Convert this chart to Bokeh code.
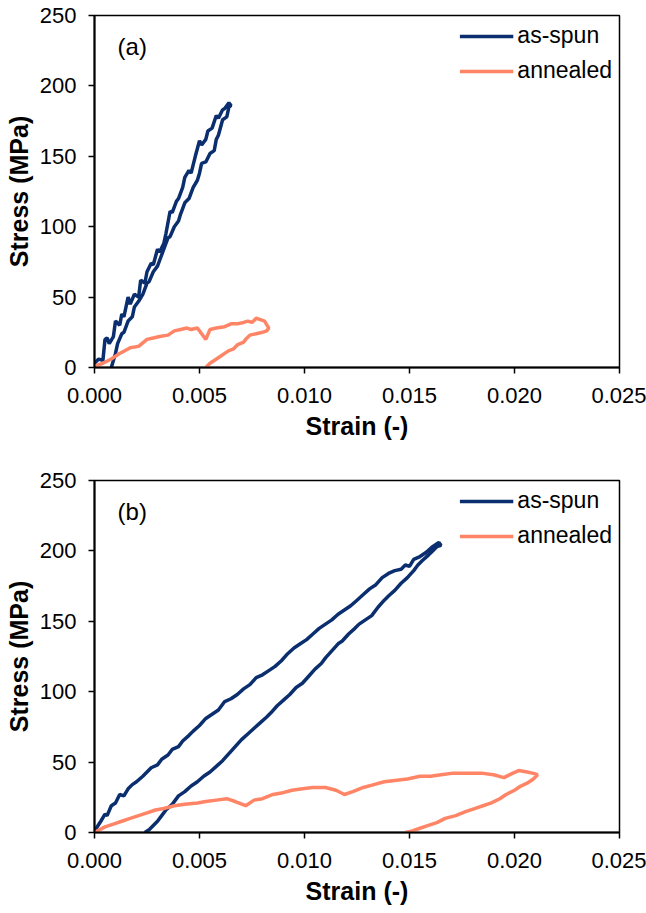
from bokeh.plotting import figure
from bokeh.layouts import column
from bokeh.models import Range1d, FixedTicker, NumeralTickFormatter, Label
from bokeh.embed import file_html
from bokeh.resources import INLINE

# ---------------- data ----------------
# Panel (a)
a_spun_x = [0.0000, 0.0002, 0.0004, 0.0005, 0.0006, 0.0007, 0.0009, 0.0010, 0.0012, 0.0013, 0.0014,
            0.0016, 0.0017, 0.0019, 0.0021, 0.0022, 0.0024, 0.0025, 0.0027, 0.0028, 0.0030, 0.0031,
            0.0033, 0.0034, 0.0036, 0.0037, 0.0039, 0.0040, 0.0042, 0.0043, 0.0045, 0.0046, 0.0048,
            0.0050, 0.0051, 0.0053, 0.0054, 0.0056, 0.0058, 0.0059, 0.0061, 0.0062, 0.0064, 0.0065,
            0.0064, 0.0063, 0.0061, 0.0059, 0.0058, 0.0057, 0.0055, 0.0053, 0.0051, 0.0050, 0.0049,
            0.0047, 0.0045, 0.0043, 0.0041, 0.0040, 0.0038, 0.0036, 0.0035, 0.0033, 0.0031, 0.0030,
            0.0028, 0.0026, 0.0025, 0.0023, 0.0021, 0.0019, 0.0018, 0.0016, 0.0014, 0.0013, 0.0011,
            0.0010, 0.0009, 0.0008]
a_spun_y = [3, 6, 5, 20, 21, 17, 22, 33, 30, 38, 36,
            50, 45, 52, 50, 62, 60, 68, 74, 73, 84, 82,
            88, 95, 111, 110, 118, 120, 128, 135, 140, 138, 150,
            161, 158, 162, 168, 170, 179, 177, 183, 184, 188, 186,
            185, 178, 176, 165, 162, 154, 152, 146, 145, 138, 133,
            128, 120, 117, 109, 104, 100, 93, 92, 84, 76, 72,
            68, 61, 60, 52, 47, 43, 36, 33, 25, 24, 17,
            10, 5, 0]
a_ann_x = [0.0000, 0.0004, 0.0008, 0.0012, 0.0017, 0.0021, 0.0025, 0.0028, 0.0031, 0.0035, 0.0038,
           0.0041, 0.0044, 0.0046, 0.0049, 0.0051, 0.0053, 0.0055, 0.0058, 0.0062, 0.0065, 0.0068,
           0.0071, 0.0073, 0.0075, 0.0077, 0.0079, 0.0081, 0.0083, 0.0082, 0.0080, 0.0077, 0.0074,
           0.0072, 0.0071, 0.0068, 0.0066, 0.0064, 0.0062, 0.0060, 0.0057, 0.0055, 0.0053]
a_ann_y = [1, 3, 6, 10, 14, 15, 20, 21, 22, 23, 26,
           27, 28, 27, 28, 24, 20, 27, 28, 29, 31, 31,
           32, 33, 32, 35, 34, 33, 28, 26, 25, 24, 23,
           20, 18, 16, 13, 12, 10, 8, 5, 3, 0]

# Panel (b)
b_spun_x = [0.0000, 0.0003, 0.0005, 0.0006, 0.0008, 0.0010, 0.0012, 0.0014, 0.0016, 0.0018, 0.0020,
            0.0023, 0.0025, 0.0027, 0.0030, 0.0032, 0.0035, 0.0037, 0.0040, 0.0042, 0.0045, 0.0047,
            0.0050, 0.0053, 0.0056, 0.0059, 0.0062, 0.0065, 0.0068, 0.0071, 0.0074, 0.0077, 0.0080,
            0.0083, 0.0086, 0.0089, 0.0092, 0.0095, 0.0098, 0.0101, 0.0104, 0.0107, 0.0110, 0.0113,
            0.0116, 0.0119, 0.0122, 0.0125, 0.0128, 0.0131, 0.0134, 0.0137, 0.0140, 0.0143, 0.0146,
            0.0148, 0.0150, 0.0152, 0.0155, 0.0158, 0.0161, 0.0164, 0.0165,
            0.0163, 0.0161, 0.0159, 0.0156, 0.0154, 0.0152, 0.0149, 0.0146, 0.0143, 0.0140, 0.0138,
            0.0135, 0.0132, 0.0129, 0.0126, 0.0124, 0.0121, 0.0118, 0.0116, 0.0113, 0.0110, 0.0108,
            0.0105, 0.0102, 0.0099, 0.0096, 0.0093, 0.0090, 0.0087, 0.0084, 0.0082, 0.0079, 0.0076,
            0.0073, 0.0070, 0.0067, 0.0064, 0.0061, 0.0058, 0.0055, 0.0052, 0.0049, 0.0046, 0.0043,
            0.0040, 0.0037, 0.0034, 0.0032, 0.0030, 0.0028, 0.0026, 0.0024]
b_spun_y = [1, 8, 13, 12, 19, 21, 27, 26, 31, 34, 36,
            40, 43, 46, 48, 52, 55, 59, 61, 65, 69, 72,
            76, 81, 84, 87, 93, 95, 98, 102, 105, 110, 112,
            115, 118, 122, 127, 131, 134, 137, 141, 145, 148, 151,
            155, 158, 161, 165, 169, 173, 176, 181, 184, 186, 187,
            190, 189, 194, 196, 199, 203, 206, 204,
            203, 200, 197, 193, 190, 186, 181, 177, 172, 168, 165,
            160, 154, 151, 148, 145, 141, 136, 134, 129, 124, 120,
            116, 111, 106, 103, 98, 94, 90, 85, 82, 78, 74,
            70, 66, 61, 56, 51, 47, 43, 40, 36, 33, 29,
            26, 20, 16, 12, 8, 5, 2, 0]
b_ann_x = [0.0000, 0.0005, 0.0009, 0.0013, 0.0017, 0.0021, 0.0025, 0.0029, 0.0033, 0.0038, 0.0043,
           0.0049, 0.0053, 0.0058, 0.0063, 0.0067, 0.0072, 0.0076, 0.0080, 0.0085, 0.0089, 0.0094,
           0.0099, 0.0104, 0.0110, 0.0115, 0.0119, 0.0123, 0.0128, 0.0133, 0.0138, 0.0143, 0.0149,
           0.0155, 0.0160, 0.0165, 0.0170, 0.0175, 0.0180, 0.0185, 0.0190, 0.0195, 0.0199, 0.0202,
           0.0206, 0.0209, 0.0211,
           0.0209, 0.0206, 0.0203, 0.0200, 0.0196, 0.0193, 0.0189, 0.0185, 0.0181, 0.0177, 0.0172,
           0.0167, 0.0163, 0.0159, 0.0155, 0.0151, 0.0148]
b_ann_y = [0, 4, 6, 8, 10, 12, 14, 16, 17, 19, 20,
           21, 22, 23, 24, 22, 19, 23, 24, 27, 28, 30,
           31, 32, 32, 30, 27, 29, 32, 34, 36, 37, 38,
           40, 40, 41, 42, 42, 42, 42, 41, 39, 42, 44,
           43, 42, 41,
           38, 35, 33, 30, 27, 24, 21, 19, 17, 15, 12,
           10, 7, 5, 3, 1, 0]

x_ticks = [0.000, 0.005, 0.010, 0.015, 0.020, 0.025]
y_ticks = [0, 50, 100, 150, 200, 250]
series_names = ["as-spun", "annealed"]
panel_tags = ["(a)", "(b)"]

NAVY = "#0A2E6E"
SALMON = "#FF8566"
FONT = "Liberation Sans"


def make_panel(tag, sx, sy, ax, ay, height, top_border, bottom_border):
    p = figure(width=646, height=height, output_backend="svg", toolbar_location=None,
               x_range=Range1d(0, 0.025), y_range=Range1d(0, 250),
               min_border_left=94, min_border_right=27,
               min_border_top=top_border, min_border_bottom=bottom_border)
    p.grid.visible = False
    p.outline_line_color = "black"
    p.outline_line_width = 1.5
    p.line(sx, sy, line_color=NAVY, line_width=3.5, legend_label=series_names[0])
    p.line(ax, ay, line_color=SALMON, line_width=3.5, legend_label=series_names[1])

    p.xaxis.ticker = FixedTicker(ticks=x_ticks)
    p.xaxis.formatter = NumeralTickFormatter(format="0.000")
    p.yaxis.ticker = FixedTicker(ticks=y_ticks)
    for ax_ in (p.xaxis, p.yaxis):
        ax_.axis_line_color = "black"
        ax_.axis_line_width = 2
        ax_.major_tick_line_color = "black"
        ax_.major_tick_line_width = 1.5
        ax_.major_tick_in = 0
        ax_.major_tick_out = 6
        ax_.minor_tick_line_color = None
        ax_.major_label_text_font = FONT
        ax_.major_label_text_font_size = "22px"
        ax_.major_label_text_color = "black"
        ax_.axis_label_text_font = FONT
        ax_.axis_label_text_font_size = "25px"
        ax_.axis_label_text_font_style = "bold"
        ax_.axis_label_text_color = "black"
    p.xaxis.axis_label = "Strain (-)"
    p.yaxis.axis_label = "Stress (MPa)"
    p.xaxis.major_label_standoff = 14
    p.xaxis.axis_label_standoff = 6
    p.yaxis.major_label_standoff = 12
    p.yaxis.axis_label_standoff = 4

    lg = p.legend[0]
    lg.location = "top_right"
    lg.border_line_color = None
    lg.background_fill_alpha = 0
    lg.label_text_font = FONT
    lg.label_text_font_size = "23px"
    lg.label_text_color = "black"
    lg.glyph_width = 54
    lg.glyph_height = 20
    lg.label_height = 20
    lg.label_standoff = 4
    lg.spacing = 8
    lg.padding = 0
    lg.margin = 7

    p.add_layout(Label(x=0.0011, y=228, text=tag, text_font=FONT, text_font_size="24px",
                       text_baseline="middle", text_color="black"))
    return p


pa = make_panel(panel_tags[0], a_spun_x, a_spun_y, a_ann_x, a_ann_y, 461, 15, 94)
pb = make_panel(panel_tags[1], b_spun_x, b_spun_y, b_ann_x, b_ann_y, 451, 19, 80)

layout = column(pa, pb)
open("out.html", "w").write(file_html(layout, INLINE))
